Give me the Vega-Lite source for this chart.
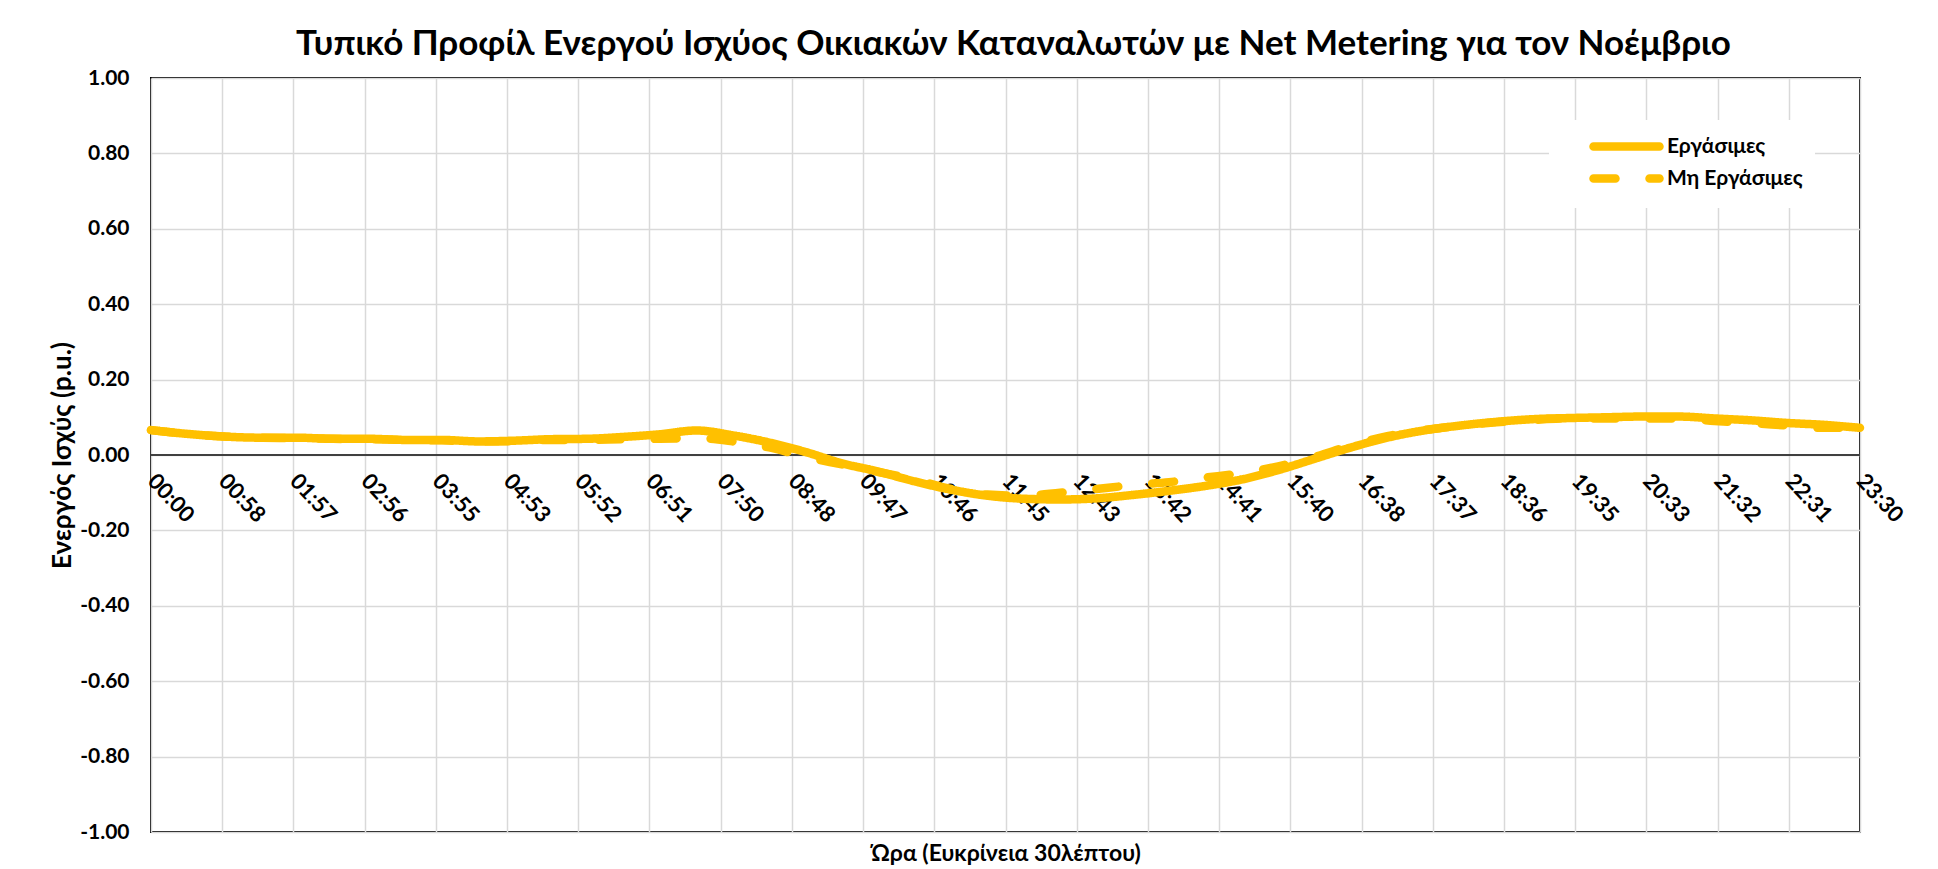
{
  "$schema": "https://vega.github.io/schema/vega-lite/v6.json",
  "autosize": {"type": "none"},
  "padding": {"left": 151, "top": 78, "right": 78, "bottom": 37},
  "width": 1709,
  "height": 754,
  "background": "white",
  "config": {
    "font": "Lato",
    "view": {"stroke": "#000000", "strokeWidth": 2},
    "axis": {"labelFont": "Lato", "titleFont": "Lato", "labelColor": "#000000", "titleColor": "#000000"}
  },
  "title": {
    "text": "Τυπικό Προφίλ Ενεργού Ισχύος Οικιακών Καταναλωτών με Net Metering  για τον Νοέμβριο",
    "fontSize": 35,
    "fontWeight": "bold",
    "font": "Lato",
    "color": "#000000",
    "anchor": "middle",
    "baseline": "alphabetic",
    "dx": 8,
    "offset": -23
  },
  "datasets": {
    "profile": [
      {"t": 0, "series": "Εργάσιμες", "v": 0.066},
      {"t": 30, "series": "Εργάσιμες", "v": 0.056},
      {"t": 60, "series": "Εργάσιμες", "v": 0.049},
      {"t": 90, "series": "Εργάσιμες", "v": 0.046},
      {"t": 120, "series": "Εργάσιμες", "v": 0.046},
      {"t": 150, "series": "Εργάσιμες", "v": 0.043},
      {"t": 180, "series": "Εργάσιμες", "v": 0.043},
      {"t": 210, "series": "Εργάσιμες", "v": 0.040},
      {"t": 240, "series": "Εργάσιμες", "v": 0.040},
      {"t": 270, "series": "Εργάσιμες", "v": 0.036},
      {"t": 300, "series": "Εργάσιμες", "v": 0.038},
      {"t": 330, "series": "Εργάσιμες", "v": 0.042},
      {"t": 360, "series": "Εργάσιμες", "v": 0.043},
      {"t": 390, "series": "Εργάσιμες", "v": 0.048},
      {"t": 420, "series": "Εργάσιμες", "v": 0.055},
      {"t": 450, "series": "Εργάσιμες", "v": 0.065},
      {"t": 480, "series": "Εργάσιμες", "v": 0.052},
      {"t": 510, "series": "Εργάσιμες", "v": 0.033},
      {"t": 540, "series": "Εργάσιμες", "v": 0.008},
      {"t": 570, "series": "Εργάσιμες", "v": -0.022},
      {"t": 600, "series": "Εργάσιμες", "v": -0.044},
      {"t": 630, "series": "Εργάσιμες", "v": -0.070},
      {"t": 660, "series": "Εργάσιμες", "v": -0.092},
      {"t": 690, "series": "Εργάσιμες", "v": -0.108},
      {"t": 720, "series": "Εργάσιμες", "v": -0.116},
      {"t": 750, "series": "Εργάσιμες", "v": -0.118},
      {"t": 780, "series": "Εργάσιμες", "v": -0.115},
      {"t": 810, "series": "Εργάσιμες", "v": -0.106},
      {"t": 840, "series": "Εργάσιμες", "v": -0.095},
      {"t": 870, "series": "Εργάσιμες", "v": -0.082},
      {"t": 900, "series": "Εργάσιμες", "v": -0.065},
      {"t": 930, "series": "Εργάσιμες", "v": -0.040},
      {"t": 960, "series": "Εργάσιμες", "v": -0.010},
      {"t": 990, "series": "Εργάσιμες", "v": 0.020},
      {"t": 1020, "series": "Εργάσιμες", "v": 0.046},
      {"t": 1050, "series": "Εργάσιμες", "v": 0.065},
      {"t": 1080, "series": "Εργάσιμες", "v": 0.078},
      {"t": 1110, "series": "Εργάσιμες", "v": 0.088},
      {"t": 1140, "series": "Εργάσιμες", "v": 0.095},
      {"t": 1170, "series": "Εργάσιμες", "v": 0.098},
      {"t": 1200, "series": "Εργάσιμες", "v": 0.100},
      {"t": 1230, "series": "Εργάσιμες", "v": 0.102},
      {"t": 1260, "series": "Εργάσιμες", "v": 0.102},
      {"t": 1290, "series": "Εργάσιμες", "v": 0.097},
      {"t": 1320, "series": "Εργάσιμες", "v": 0.092},
      {"t": 1350, "series": "Εργάσιμες", "v": 0.085},
      {"t": 1380, "series": "Εργάσιμες", "v": 0.080},
      {"t": 1410, "series": "Εργάσιμες", "v": 0.072},
      {"t": 0, "series": "Μη Εργάσιμες", "v": 0.066},
      {"t": 30, "series": "Μη Εργάσιμες", "v": 0.056},
      {"t": 60, "series": "Μη Εργάσιμες", "v": 0.049},
      {"t": 90, "series": "Μη Εργάσιμες", "v": 0.046},
      {"t": 120, "series": "Μη Εργάσιμες", "v": 0.045},
      {"t": 150, "series": "Μη Εργάσιμες", "v": 0.043},
      {"t": 180, "series": "Μη Εργάσιμες", "v": 0.042},
      {"t": 210, "series": "Μη Εργάσιμες", "v": 0.040},
      {"t": 240, "series": "Μη Εργάσιμες", "v": 0.039},
      {"t": 270, "series": "Μη Εργάσιμες", "v": 0.036},
      {"t": 300, "series": "Μη Εργάσιμες", "v": 0.037},
      {"t": 330, "series": "Μη Εργάσιμες", "v": 0.040},
      {"t": 360, "series": "Μη Εργάσιμες", "v": 0.040},
      {"t": 390, "series": "Μη Εργάσιμες", "v": 0.042},
      {"t": 420, "series": "Μη Εργάσιμες", "v": 0.043},
      {"t": 450, "series": "Μη Εργάσιμες", "v": 0.045},
      {"t": 480, "series": "Μη Εργάσιμες", "v": 0.036},
      {"t": 510, "series": "Μη Εργάσιμες", "v": 0.020},
      {"t": 540, "series": "Μη Εργάσιμες", "v": -0.005},
      {"t": 570, "series": "Μη Εργάσιμες", "v": -0.025},
      {"t": 600, "series": "Μη Εργάσιμες", "v": -0.045},
      {"t": 630, "series": "Μη Εργάσιμες", "v": -0.065},
      {"t": 660, "series": "Μη Εργάσιμες", "v": -0.090},
      {"t": 690, "series": "Μη Εργάσιμες", "v": -0.105},
      {"t": 720, "series": "Μη Εργάσιμες", "v": -0.108},
      {"t": 750, "series": "Μη Εργάσιμες", "v": -0.100},
      {"t": 780, "series": "Μη Εργάσιμες", "v": -0.090},
      {"t": 810, "series": "Μη Εργάσιμες", "v": -0.080},
      {"t": 840, "series": "Μη Εργάσιμες", "v": -0.072},
      {"t": 870, "series": "Μη Εργάσιμες", "v": -0.060},
      {"t": 900, "series": "Μη Εργάσιμες", "v": -0.048},
      {"t": 930, "series": "Μη Εργάσιμες", "v": -0.030},
      {"t": 960, "series": "Μη Εργάσιμες", "v": -0.005},
      {"t": 990, "series": "Μη Εργάσιμες", "v": 0.025},
      {"t": 1020, "series": "Μη Εργάσιμες", "v": 0.050},
      {"t": 1050, "series": "Μη Εργάσιμες", "v": 0.066},
      {"t": 1080, "series": "Μη Εργάσιμες", "v": 0.078},
      {"t": 1110, "series": "Μη Εργάσιμες", "v": 0.087},
      {"t": 1140, "series": "Μη Εργάσιμες", "v": 0.093},
      {"t": 1170, "series": "Μη Εργάσιμες", "v": 0.097},
      {"t": 1200, "series": "Μη Εργάσιμες", "v": 0.097},
      {"t": 1230, "series": "Μη Εργάσιμες", "v": 0.097},
      {"t": 1260, "series": "Μη Εργάσιμες", "v": 0.097},
      {"t": 1290, "series": "Μη Εργάσιμες", "v": 0.090},
      {"t": 1320, "series": "Μη Εργάσιμες", "v": 0.085},
      {"t": 1350, "series": "Μη Εργάσιμες", "v": 0.078},
      {"t": 1380, "series": "Μη Εργάσιμες", "v": 0.072},
      {"t": 1410, "series": "Μη Εργάσιμες", "v": 0.072}
    ]
  },
  "layer": [
    {
      "data": {"values": [{}]},
      "mark": {"type": "rule", "color": "#404040", "strokeWidth": 2},
      "encoding": {
        "y": {"datum": 0, "type": "quantitative", "scale": {"domain": [-1, 1], "nice": false}}
      }
    },
    {
      "data": {"name": "profile"},
      "mark": {"type": "line", "interpolate": "monotone", "strokeWidth": 8.5, "strokeCap": "round", "strokeJoin": "round"},
      "encoding": {
        "x": {
          "field": "t",
          "type": "quantitative",
          "scale": {"domain": [0, 1410], "nice": false, "zero": false},
          "axis": {
            "values": [0, 58.75, 117.5, 176.25, 235, 293.75, 352.5, 411.25, 470, 528.75, 587.5, 646.25, 705, 763.75, 822.5, 881.25, 940, 998.75, 1057.5, 1116.25, 1175, 1233.75, 1292.5, 1351.25, 1410],
            "labelExpr": "(floor(datum.value/60) < 10 ? '0' : '') + floor(datum.value/60) + ':' + (floor(datum.value%60) < 10 ? '0' : '') + floor(datum.value%60)",
            "labelAngle": 47,
            "labelAlign": "left",
            "labelBaseline": "middle",
            "labelPadding": 22,
            "labelFontSize": 22,
            "labelFontWeight": "bold",
            "labelOverlap": false,
            "labelBound": false,
            "labelFlush": false,
            "offset": -377,
            "domain": false,
            "ticks": false,
            "grid": true,
            "gridColor": "#d9d9d9",
            "gridWidth": 1.5,
            "title": "Ώρα (Ευκρίνεια 30λέπτου)",
            "titleFontSize": 23,
            "titleFontWeight": "bold",
            "titleY": 398,
            "titleBaseline": "middle"
          }
        },
        "y": {
          "field": "v",
          "type": "quantitative",
          "scale": {"domain": [-1, 1], "nice": false},
          "axis": {
            "values": [-1, -0.8, -0.6, -0.4, -0.2, 0, 0.2, 0.4, 0.6, 0.8, 1],
            "labelExpr": "replace(format(datum.value, '.2f'), '\u2212', '-')",
            "labelFontSize": 21,
            "labelFontWeight": "bold",
            "labelPadding": 22,
            "domain": false,
            "ticks": false,
            "grid": true,
            "gridColor": "#d9d9d9",
            "gridWidth": 1.5,
            "title": "Ενεργός Ισχύς (p.u.)",
            "titleFontSize": 26,
            "titleFontWeight": "bold",
            "titlePadding": 4
          }
        },
        "color": {
          "field": "series",
          "type": "nominal",
          "scale": {"domain": ["Εργάσιμες", "Μη Εργάσιμες"], "range": ["#FFC000", "#FFC000"]},
          "legend": {
            "title": null,
            "orient": "none",
            "legendX": 1398,
            "legendY": 42,
            "fillColor": "white",
            "padding": 12,
            "symbolType": "M-1,0H5.6",
            "symbolSize": 400,
            "symbolStrokeWidth": 8.5,
            "symbolOffset": 28,
            "labelFontSize": 21,
            "labelFont": "Lato",
            "labelFontWeight": "bold",
            "labelColor": "#000000",
            "rowPadding": -9,
            "labelOffset": 49,
            "encode": {"symbols": {"update": {"strokeCap": {"value": "round"}, "fill": {"value": "transparent"}}}}
          }
        },
        "strokeDash": {
          "field": "series",
          "type": "nominal",
          "scale": {"domain": ["Εργάσιμες", "Μη Εργάσιμες"], "range": [[1, 0], [22, 34]]},
          "legend": {
            "title": null,
            "orient": "none",
            "legendX": 1398,
            "legendY": 42,
            "fillColor": "white",
            "padding": 12,
            "symbolType": "M-1,0H5.6",
            "symbolSize": 400,
            "symbolStrokeWidth": 8.5,
            "symbolOffset": 28,
            "labelFontSize": 21,
            "labelFont": "Lato",
            "labelFontWeight": "bold",
            "labelColor": "#000000",
            "rowPadding": -9,
            "labelOffset": 49,
            "encode": {"symbols": {"update": {"strokeCap": {"value": "round"}, "fill": {"value": "transparent"}}}}
          }
        }
      }
    }
  ]
}
